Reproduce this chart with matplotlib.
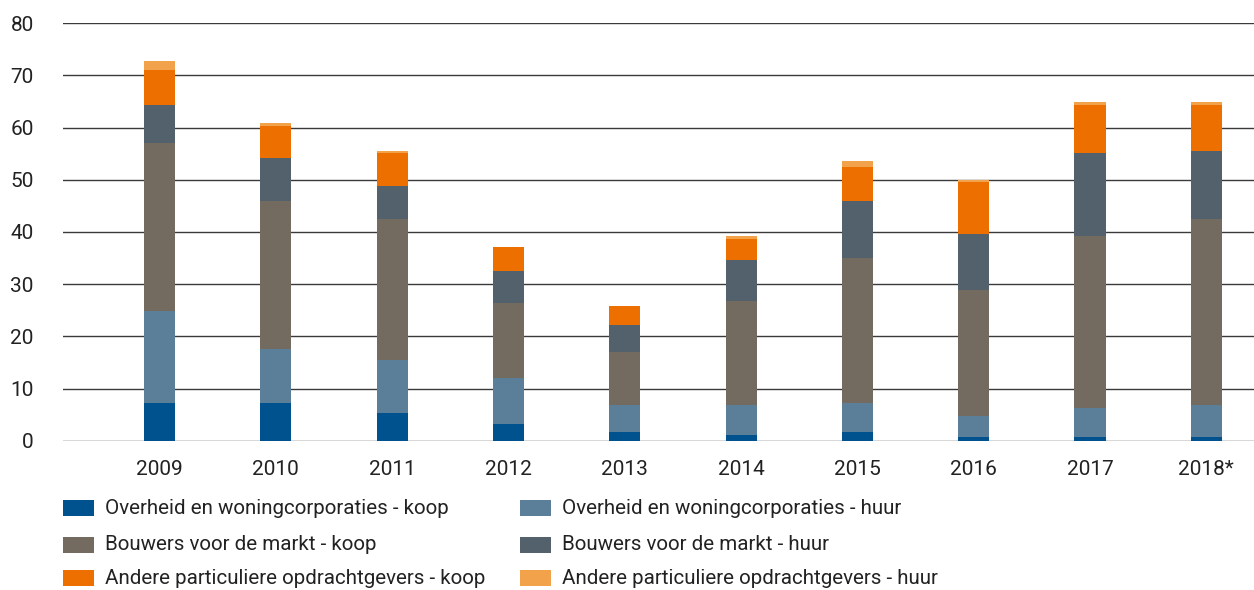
import matplotlib
matplotlib.use("Agg")
import matplotlib.pyplot as plt
from matplotlib.patches import Rectangle
import numpy as np

plt.rcParams['font.family'] = ['Roboto', 'DejaVu Sans']

years = ["2009", "2010", "2011", "2012", "2013", "2014", "2015", "2016", "2017", "2018*"]
labels = [
    "Overheid en woningcorporaties - koop",
    "Overheid en woningcorporaties - huur",
    "Bouwers voor de markt - koop",
    "Bouwers voor de markt - huur",
    "Andere particuliere opdrachtgevers - koop",
    "Andere particuliere opdrachtgevers - huur",
]
overheid_koop = [7.2, 7.2, 5.3, 3.2, 1.7, 1.1, 1.7, 0.7, 0.7, 0.7]
overheid_huur = [17.7, 10.4, 10.2, 8.9, 5.1, 5.7, 5.5, 4.0, 5.6, 6.1]
markt_koop = [32.2, 28.4, 26.9, 14.3, 10.2, 20.0, 27.9, 24.2, 33.0, 35.6]
markt_huur = [7.3, 8.1, 6.5, 6.2, 5.2, 7.9, 10.9, 10.8, 15.9, 13.2]
andere_koop = [6.7, 6.3, 6.3, 4.6, 3.6, 4.0, 6.5, 9.8, 9.2, 8.8]
andere_huur = [1.6, 0.4, 0.4, 0.0, 0.0, 0.6, 1.2, 0.5, 0.6, 0.6]
series = [overheid_koop, overheid_huur, markt_koop, markt_huur, andere_koop, andere_huur]
colors = ["#00528f", "#5b7f99", "#736a60", "#52616b", "#ec6f00", "#f2a24a"]
yticks = [0, 10, 20, 30, 40, 50, 60, 70, 80]

W, H = 1254, 590
fig = plt.figure(figsize=(W / 100, H / 100), dpi=100)
ax = fig.add_axes([63 / W, 1 - 440.7 / H, 1 - 63 / W, (440.7 - 23.3) / H])

x = np.arange(len(years))
bottom = np.zeros(len(years))
for vals, col, lab in zip(series, colors, labels):
    ax.bar(x, vals, width=0.267, bottom=bottom, color=col, label=lab, zorder=3, linewidth=0)
    bottom += np.array(vals)

ax.set_xlim(-0.83, 9.41)
ax.set_ylim(0, 80)
ax.set_yticks(yticks)
ax.set_yticklabels([str(v) for v in yticks])
for v in yticks:
    ax.axhline(v, color="#3a3a3a", lw=1.0, zorder=1)
for s in ax.spines.values():
    s.set_visible(False)
ax.set_xticks(x)
ax.set_xticklabels(years)
ax.tick_params(axis='y', length=0, pad=21, labelsize=15, labelcolor="#222222")
ax.tick_params(axis='x', length=0, pad=14, labelsize=15, labelcolor="#222222")

# legend (manual layout)
col_x = [63, 520]
row_y = [508, 545, 578]
for i, (lab, col) in enumerate(zip(labels, colors)):
    cx = col_x[i % 2]
    cy = row_y[i // 2]
    fig.add_artist(Rectangle((cx / W, 1 - (cy + 8) / H), 31 / W, 16 / H,
                             transform=fig.transFigure, color=col, lw=0))
    fig.text((cx + 42) / W, 1 - cy / H, lab, ha='left', va='center',
             fontsize=14.8, color="#222222")

fig.savefig("out.png", dpi=100)
